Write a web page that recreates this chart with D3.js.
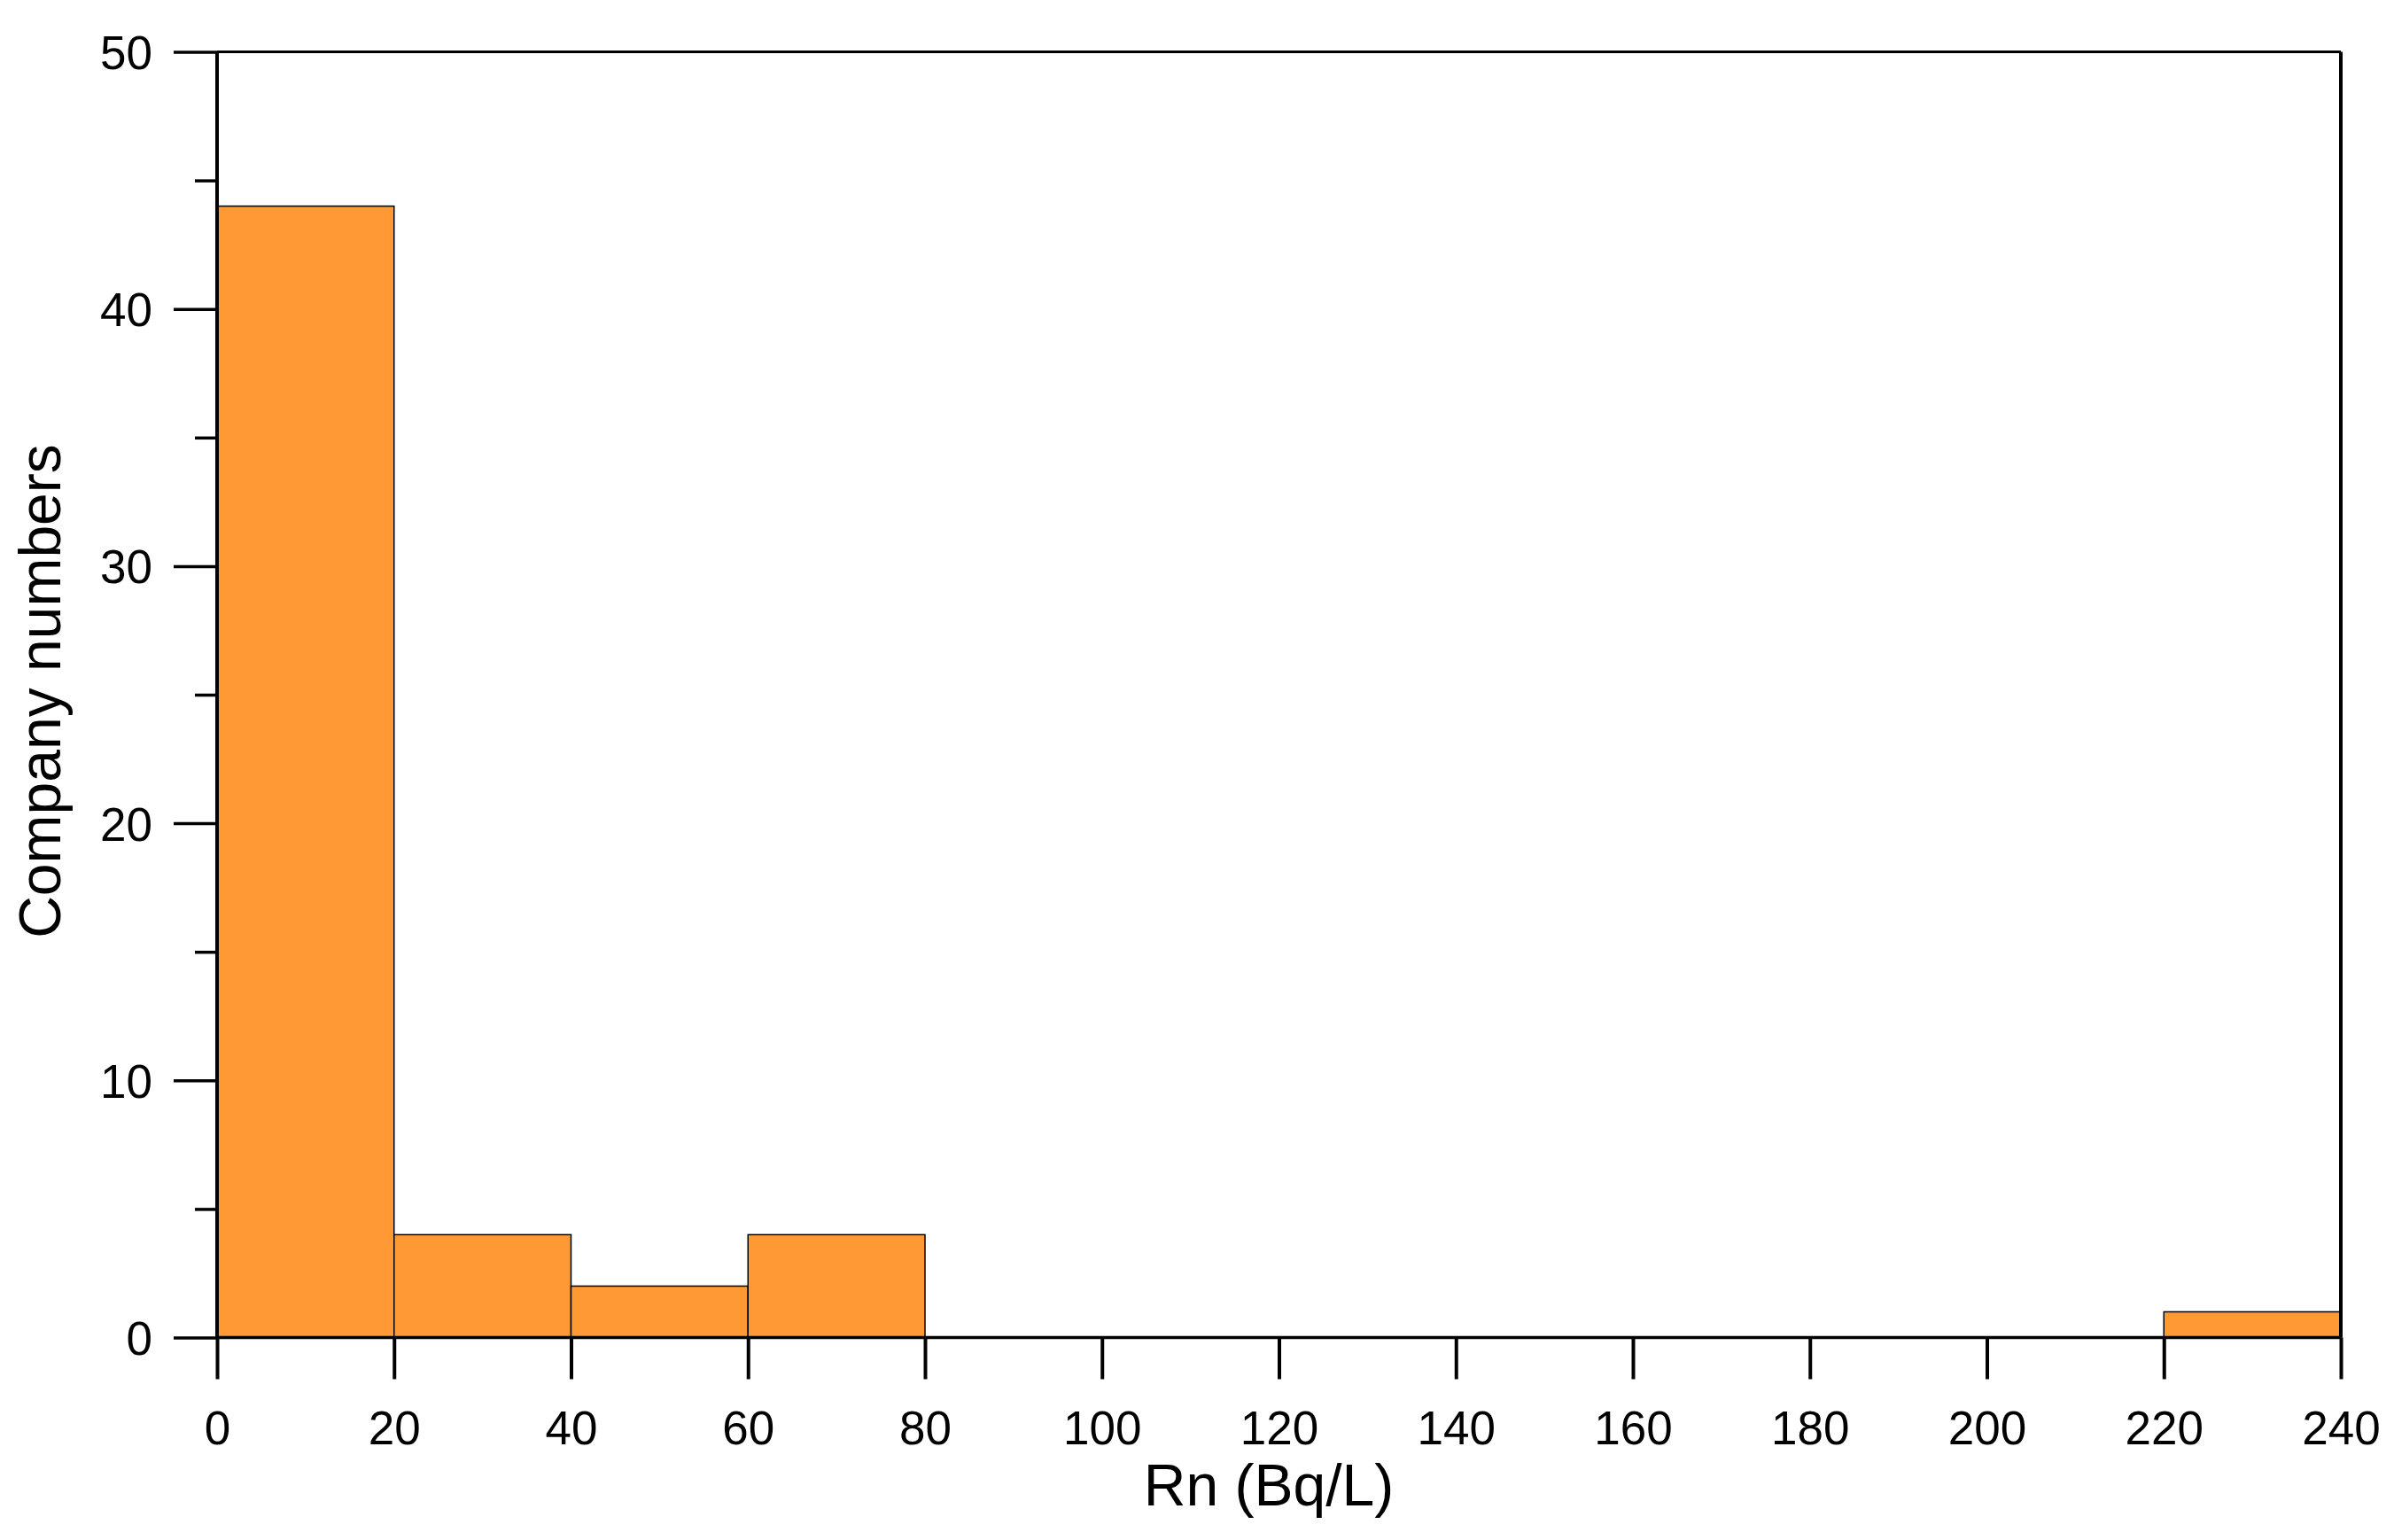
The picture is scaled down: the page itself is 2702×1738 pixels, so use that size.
<!DOCTYPE html>
<html>
<head>
<meta charset="utf-8">
<script src="https://cdn.jsdelivr.net/npm/d3@7"></script>
<style>
html,body{margin:0;padding:0;background:#fff;}
svg{display:block;}
text{font-family:"Liberation Sans",Arial,sans-serif;fill:#000;}
</style>
</head>
<body>
<script>
// Histogram bins (lower edge, upper edge) and counts
const binStarts = [0, 20, 40, 60, 80, 100, 120, 140, 160, 180, 200, 220];
const binEnds   = [20, 40, 60, 80, 100, 120, 140, 160, 180, 200, 220, 240];
const counts    = [44, 4, 2, 4, 0, 0, 0, 0, 0, 0, 0, 1];
const xTicks = [0, 20, 40, 60, 80, 100, 120, 140, 160, 180, 200, 220, 240];
const yTicks = [0, 10, 20, 30, 40, 50];
const yMinorTicks = [5, 15, 25, 35, 45];
const xTitle = "Rn (Bq/L)";
const yTitle = "Company numbers";

const W = 2702, H = 1738;
const mLeft = 245, mRight = 2642, mTop = 58.5, mBottom = 1509.5;

const svg = d3.select("body").append("svg").attr("width", W).attr("height", H);

const x = d3.scaleLinear().domain([0, 240]).range([mLeft, mRight]);
const y = d3.scaleLinear().domain([0, 50]).range([mBottom, mTop]);

const bins = binStarts.map((s, i) => ({x0: s, x1: binEnds[i], n: counts[i]}));

// bars
svg.append("g").selectAll("rect").data(bins.filter(d => d.n > 0)).join("rect")
  .attr("x", d => x(d.x0))
  .attr("y", d => y(d.n))
  .attr("width", d => x(d.x1) - x(d.x0))
  .attr("height", d => y(0) - y(d.n))
  .attr("fill", "#FF9933")
  .attr("stroke", "#000")
  .attr("stroke-width", 1.5);

// frame: top and right
svg.append("line").attr("x1", mLeft).attr("x2", mRight).attr("y1", mTop).attr("y2", mTop)
  .attr("stroke", "#000").attr("stroke-width", 3);
svg.append("line").attr("x1", mRight).attr("x2", mRight).attr("y1", mTop).attr("y2", mBottom)
  .attr("stroke", "#000").attr("stroke-width", 4);

// x axis
const xAxis = d3.axisBottom(x).tickValues(xTicks).tickSize(47).tickPadding(34)
  .tickFormat(d3.format("d"));
const gx = svg.append("g").attr("transform", `translate(0,${mBottom})`).call(xAxis);
gx.select(".domain").attr("stroke", "#000").attr("stroke-width", 3.5).attr("d", `M${mLeft},0H${mRight}`);
gx.selectAll(".tick line").attr("stroke", "#000").attr("stroke-width", 4);
gx.selectAll(".tick text").attr("font-size", 53).attr("font-family", "Liberation Sans, Arial, sans-serif")
  .attr("dy", null).attr("y", 120).attr("fill", "#000");

// y axis
const yAxis = d3.axisLeft(y).tickValues(yTicks).tickSize(49).tickPadding(24)
  .tickFormat(d3.format("d"));
const gy = svg.append("g").attr("transform", `translate(${mLeft},0)`).call(yAxis);
gy.select(".domain").attr("stroke", "#000").attr("stroke-width", 4).attr("d", `M0,${mBottom}V${mTop}`);
gy.selectAll(".tick line").attr("stroke", "#000").attr("stroke-width", 3.5);
gy.selectAll(".tick text").attr("font-size", 53).attr("font-family", "Liberation Sans, Arial, sans-serif")
  .attr("dy", "0.36em").attr("fill", "#000");

// y minor ticks
const yMinor = d3.axisLeft(y).tickValues(yMinorTicks).tickSize(25).tickFormat("");
const gym = svg.append("g").attr("transform", `translate(${mLeft},0)`).call(yMinor);
gym.select(".domain").remove();
gym.selectAll(".tick line").attr("stroke", "#000").attr("stroke-width", 3.5);

// titles
svg.append("text").attr("x", 1432).attr("y", 1699).attr("text-anchor", "middle")
  .attr("font-size", 66).text(xTitle);
svg.append("text").attr("transform", `translate(68,${(mTop + mBottom) / 2 - 4}) rotate(-90)`)
  .attr("text-anchor", "middle").attr("font-size", 66).text(yTitle);
</script>
</body>
</html>
